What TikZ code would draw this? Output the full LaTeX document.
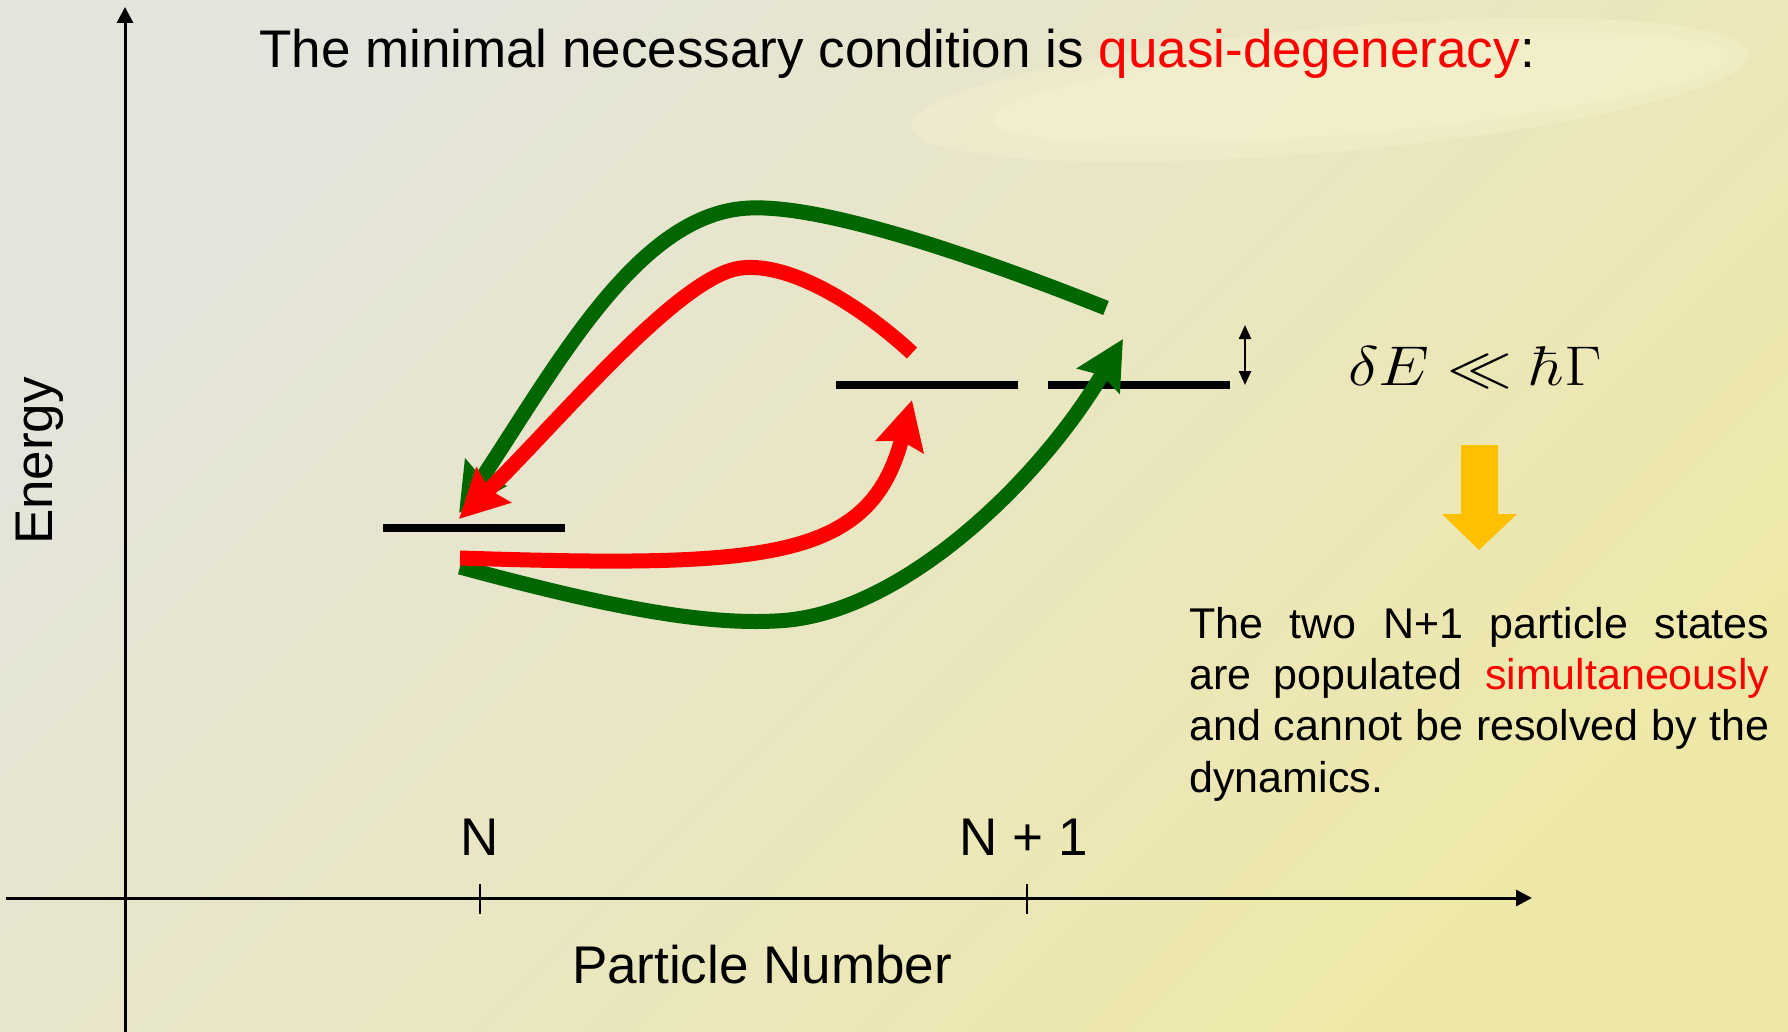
\documentclass[tikz,border=0pt]{standalone}
\usepackage[no-math]{fontspec}
\setmainfont{Liberation Sans}
\usetikzlibrary{arrows.meta}
\definecolor{bggrey}{RGB}{228,228,220}
\definecolor{bgmid}{RGB}{242,240,212}
\definecolor{bgyellow}{RGB}{238,232,168}
\definecolor{streak}{RGB}{249,246,210}
\definecolor{hopgreen}{RGB}{0,102,0}
\definecolor{hopgold}{RGB}{255,192,0}
\begin{document}
\begin{tikzpicture}[
        x=0.5pt, y=-0.5pt,
        bigtext/.style={font=\fontsize{26.5}{32}\selectfont, inner sep=0pt},
        remarktext/.style={font=\fontsize{21.5}{25.6}\selectfont, inner sep=0pt, text width=290pt, align=justify},
        axis/.style={line width=1.5pt, -{Triangle[length=8pt,width=8pt]}},
        tickmark/.style={line width=1pt},
        levelbar/.style={line width=4pt},
        gaparrow/.style={line width=1.2pt, {Triangle[length=7pt,width=6pt]}-{Triangle[length=7pt,width=6pt]}},
        hop/.style={line width=7.5pt, -{Stealth[length=24pt,width=24pt,inset=3pt]}},
    ]
    % background
    \shade[top color=bggrey, middle color=bgmid, bottom color=bgyellow, shading angle=45] (0,0) rectangle (1788,1032);
    \fill[streak, opacity=0.35, rotate around={5:(1330,90)}] (1330,90) ellipse [x radius=420, y radius=62];
    \fill[streak, opacity=0.35, rotate around={5:(1360,88)}] (1360,88) ellipse [x radius=370, y radius=45];
    \useasboundingbox (0,0) rectangle (1788,1032);

    % axes
    \coordinate (origin) at (125,898);
    \coordinate (ytop) at (125,7);
    \coordinate (ybot) at (125,1032);
    \coordinate (xleft) at (6,898);
    \coordinate (xright) at (1532,898);
    \draw[axis] (ybot) -- (ytop);
    \draw[axis] (xleft) -- (xright);
    \foreach \tx in {480,1027}
        \draw[tickmark] (\tx,884) -- (\tx,914);

    \node[bigtext, anchor=base] (nlabel) at (480,855) {N};
    \node[bigtext, anchor=base] (nplabel) at (1024,855) {N + 1};
    \node[bigtext, anchor=base] (partnum) at (762,983) {Particle Number};
    \node[bigtext, anchor=base, rotate=90] (energy) at (52,461) {Energy};
    \node[bigtext, anchor=base] (title) at (897,68)
        {The minimal necessary condition is \textcolor{red}{quasi-degeneracy}:};

    % levels
    \coordinate (lvN-w) at (383,528);
    \coordinate (lvN-e) at (565,528);
    \coordinate (lvA-w) at (836,385);
    \coordinate (lvA-e) at (1018,385);
    \coordinate (lvB-w) at (1048,385);
    \coordinate (lvB-e) at (1230,385);
    \draw[levelbar] (lvN-w) -- (lvN-e);
    \draw[levelbar] (lvA-w) -- (lvA-e);
    \draw[levelbar] (lvB-w) -- (lvB-e);

    \coordinate (gaptop) at (1245,325);
    \coordinate (gapbot) at (1245,385);
    \draw[gaparrow] (gaptop) -- (gapbot);

    % hops
    \coordinate (g1s) at (460,567);
    \coordinate (g1e) at (1123,339);
    \coordinate (g2s) at (1106,308);
    \coordinate (g2e) at (459,513);
    \coordinate (r1s) at (460,558);
    \coordinate (r1e) at (912,400);
    \coordinate (r2s) at (912,353);
    \coordinate (r2e) at (459,519);
    \draw[hop, hopgreen] (g1s) .. controls (600,605) and (700,625) .. (775,621)
        .. controls (900,617) and (1040,480) .. (g1e);
    \draw[hop, hopgreen] (g2s) .. controls (960,250) and (820,205) .. (750,208)
        .. controls (640,212) and (560,360) .. (g2e);
    \draw[hop, red] (r1s) .. controls (770,568) and (870,560) .. (r1e);
    \draw[hop, red] (r2s) .. controls (860,305) and (790,262) .. (741,268)
        .. controls (680,275) and (560,420) .. (r2e);

    % condition
    \node[font=\fontsize{20.74}{25}\selectfont, inner sep=0pt, scale=1.35, xscale=1.16, anchor=base] (ineq) at (1475,385)
        {$\delta E \ll \hbar\Gamma$};
    \fill[hopgold] (1461,445) -- (1498,445) -- (1498,514) -- (1517,514) -- (1479,550)
        -- (1442,514) -- (1461,514) -- cycle;
    \node[remarktext, anchor=north west,
        execute at begin node={\hyphenpenalty=10000\exhyphenpenalty=10000}] (remark) at (1189,607)
        {The two N+1 particle states are populated \textcolor{red}{simultaneously} and cannot be resolved by the dynamics.};
\end{tikzpicture}
\end{document}
